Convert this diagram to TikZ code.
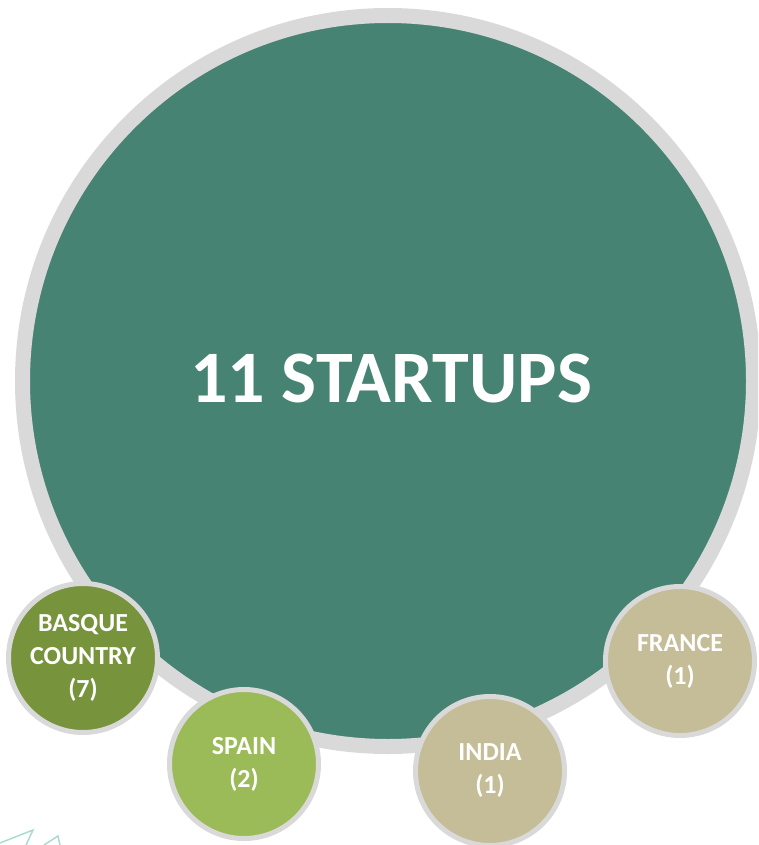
\documentclass[tikz,border=0pt]{standalone}
\usepackage{fontspec}
\setmainfont{Carlito}
\definecolor{teal}{HTML}{468373}
\definecolor{ringgray}{HTML}{D9D9D9}
\definecolor{olive}{HTML}{77933C}
\definecolor{lightolive}{HTML}{9BBB59}
\definecolor{tan}{HTML}{C4BD97}
\definecolor{faint}{HTML}{A9DCCF}
\tikzset{
  bigcircle/.style={circle, inner sep=0pt, fill=teal, draw=ringgray, line width=15pt, minimum size=731pt},
  titletext/.style={text=white, font=\bfseries\fontsize{74}{80}\selectfont},
  smallcircle/.style={circle, inner sep=0pt, draw=ringgray, line width=5pt, minimum size=149pt, text=white, align=center, font=\bfseries\fontsize{26}{33}\selectfont},
}
\begin{document}
\begin{tikzpicture}[x=1pt,y=-1pt]
\useasboundingbox (0,0) rectangle (758,845);
\clip (0,0) rectangle (758,845);
\node[bigcircle] (main) at (388,381) {};
\node[titletext] (title) at (391,379) {11 STARTUPS};
\node[smallcircle, fill=olive] (basque) at (83,658) {BASQUE\\COUNTRY\\(7)};
\node[smallcircle, fill=lightolive] (spain) at (244,764) {SPAIN\\(2)};
\node[smallcircle, fill=tan] (india) at (490,771) {INDIA\\(1)};
\node[smallcircle, fill=tan] (france) at (680,661) {FRANCE\\(1)};
\draw[faint, line width=1.5pt] (0,843) -- (33,830) -- (26,845);
\draw[faint, line width=1.5pt] (44,845) -- (58,836) -- (60,845);
\end{tikzpicture}
\end{document}
